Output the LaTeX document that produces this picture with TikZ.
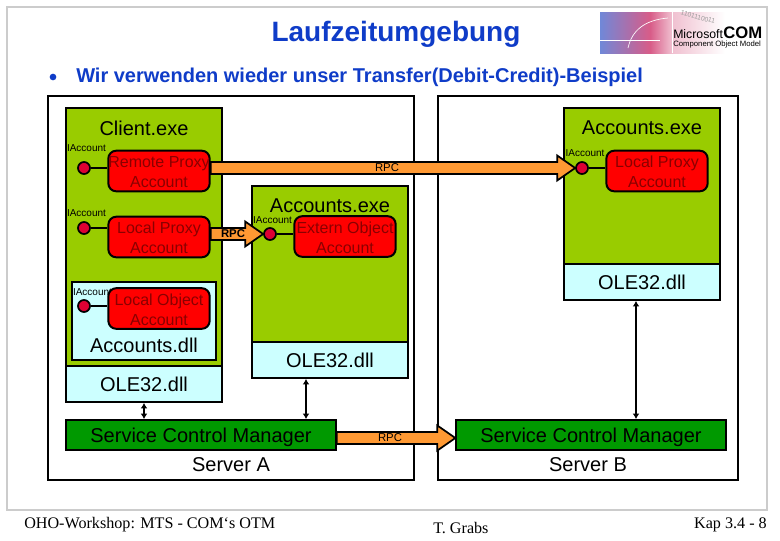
\documentclass[tikz,border=0pt]{standalone}
\usepackage{fontspec}
\setmainfont{Liberation Sans}
\newfontfamily\seriffont{Liberation Serif}
\usetikzlibrary{arrows.meta,calc}
\definecolor{limeg}{HTML}{99CC00}
\definecolor{paleb}{HTML}{CCFFFF}
\definecolor{smg}{HTML}{009900}
\definecolor{rpco}{HTML}{FF9933}
\definecolor{dotred}{HTML}{DD0033}
\definecolor{darkred}{HTML}{8A0000}
\definecolor{framegray}{HTML}{CCCCCC}
\definecolor{headblue}{HTML}{0F3CC8}
\definecolor{logoblue}{HTML}{7088D8}
\definecolor{logopink}{HTML}{D85C88}
\definecolor{logolight}{HTML}{F0C0D0}
\newcommand\dnline[1]{\raisebox{-0.8pt}[\height][\depth]{#1}}
\tikzset{
 x=0.75pt,y=-0.75pt,
 server/.style={draw=black,line width=1.5pt,fill=white},
 proc/.style={draw=black,line width=1.5pt,fill=limeg},
 dll/.style={draw=black,line width=1.5pt,fill=paleb},
 scm/.style={draw=black,line width=1.5pt,fill=smg,minimum width=202pt,minimum height=22pt,inner sep=0pt,font=\fontsize{15}{18}\selectfont,text depth=0pt},
 objbox/.style={draw=black,line width=1.5pt,fill=red,rounded corners=6pt,minimum width=76pt,minimum height=30.5pt,inner sep=0pt,align=center,font=\fontsize{12}{15}\selectfont,text=darkred},
 iface/.style={circle,draw=black,line width=1.3pt,fill=dotred,minimum size=9pt,inner sep=0pt},
 ilabel/.style={font=\fontsize{7.5}{8}\selectfont,inner sep=0pt},
 big/.style={font=\fontsize{15}{18}\selectfont,inner sep=0pt},
 rpcarrow/.style={draw=black,line width=1.3pt,fill=rpco},
 rpclabel/.style={font=\fontsize{8.5}{9}\selectfont,inner sep=0pt},
 link/.style={draw=black,line width=1.3pt},
 dbl/.style={draw=black,line width=1.2pt,{Latex[length=4pt,width=5pt]}-{Latex[length=4pt,width=5pt]}},
 foot/.style={font=\seriffont\fontsize{12.1}{14}\selectfont,inner sep=0pt},
}
\begin{document}
\begin{tikzpicture}
\useasboundingbox (0,0) rectangle (780,540);
\fill[white] (0,0) rectangle (780,540);
\draw[framegray,line width=1.5pt] (7,7) rectangle (767,510);
% logo
\shade[left color=logoblue,right color=logopink] (600,12) rectangle (650,53);
\shade[left color=logopink,right color=logolight] (650,12) rectangle (672,53);
\shade[left color=logolight,right color=white] (672,12) rectangle (725,53);
\draw[white,line width=0.5pt] (600,40) -- (660,40) (672,12) -- (672,53);
\draw[white,line width=0.5pt] (628,48) .. controls (632,30) and (645,20) .. (668,18);
\node[font=\fontsize{5}{6}\selectfont,text=black!40,rotate=-15,inner sep=0pt] (digits) at (698,17) {1101110011};
\node[font=\fontsize{9.2}{11}\selectfont,inner sep=0pt,anchor=base west] (ms) at (673,38) {Microsoft};
\node[font=\bfseries\fontsize{12.5}{15}\selectfont,inner sep=0pt,anchor=base west] (com) at (723,38) {COM};
\node[font=\fontsize{5.8}{7}\selectfont,inner sep=0pt,anchor=base west] (cm) at (673,46) {Component Object Model};
% title
\node[font=\bfseries\fontsize{21}{24}\selectfont,text=headblue,inner sep=0pt] (title) at (396,34) {Laufzeitumgebung};
\node[circle,fill=headblue,inner sep=0pt,minimum size=5pt] (bul) at (53,77) {};
\node[font=\bfseries\fontsize{15}{18}\selectfont,text=headblue,inner sep=0pt,anchor=base west] (sub) at (76,82) {Wir verwenden wieder unser Transfer(Debit-Credit)-Beispiel};
% servers
\draw[server] (48,96) rectangle (414,480);
\draw[server] (438,96) rectangle (738,480);
% client
\draw[proc] (66,108) rectangle (222,366);
\draw[dll] (66,366) rectangle (222,402);
\node[big] (t1) at (144,128) {Client.exe};
\node[big] (t2) at (144,384) {OLE32.dll};
% accounts.dll
\draw[dll] (72,282) rectangle (216,360);
\node[big] (t3) at (144,345) {Accounts.dll};
% middle process
\draw[proc] (252,186) rectangle (408,342);
\draw[dll] (252,342) rectangle (408,378);
\node[big] (t4) at (330,206) {Accounts.exe};
\node[big] (t5) at (330,360) {OLE32.dll};
% right process
\draw[proc] (564,108) rectangle (720,264);
\draw[dll] (564,264) rectangle (720,300);
\node[big] (t6) at (642,128) {Accounts.exe};
\node[big] (t7) at (642,282) {OLE32.dll};
% SCM
\node[scm] (scmA) at (201,435) {Service Control Manager};
\node[scm] (scmB) at (591,435) {Service Control Manager};
\node[big] (sa) at (231,465) {Server A};
\node[big] (sb) at (588,465) {Server B};
% interface labels (under the boxes)
\node[ilabel] (l1) at (86.5,148) {IAccount};
\node[ilabel] (l2) at (86.5,213) {IAccount};
\node[ilabel] (l3) at (92.5,292) {IAccount};
\node[ilabel] (l4) at (272.5,220) {IAccount};
\node[ilabel] (l5) at (585,153) {IAccount};
% objects
\node[objbox] (rp) at (159,171) {\dnline{Remote Proxy}\\\dnline{Account}};
\node[objbox] (lp) at (159,237) {\dnline{Local Proxy}\\\dnline{Account}};
\node[objbox] (lo) at (159,308.5) {\dnline{Local Object}\\\dnline{Account}};
\node[objbox] (eo) at (345,236.5) {\dnline{Extern Object}\\\dnline{Account}};
\node[objbox] (lpr) at (657,171) {\dnline{Local Proxy}\\\dnline{Account}};
% interfaces
\node[iface] (i1) at (84,168) {};
\node[iface] (i2) at (84,228) {};
\node[iface] (i3) at (84,306) {};
\node[iface] (i4) at (270,234) {};
\node[iface] (i5) at (582,168) {};
\draw[link] (i1) -- (rp.west|-i1);
\draw[link] (i2) -- (lp.west|-i2);
\draw[link] (i3) -- (lo.west|-i3);
\draw[link] (i4) -- (eo.west|-i4);
\draw[link] (i5) -- (lpr.west|-i5);
% rpc arrows
\def\rpcarrowfrom(#1)(#2){%
 \draw[rpcarrow] let \p1=(#1),\p2=(#2) in (\x1,\y1+4.5pt)--(\x2-13.5pt,\y2+4.5pt)--(\x2-13.5pt,\y2+9.4pt)--(\x2,\y2)--(\x2-13.5pt,\y2-9.4pt)--(\x2-13.5pt,\y2-4.5pt)--(\x1,\y1-4.5pt)--cycle;}
\coordinate (a1s) at (rp.east|-i1);
\coordinate (a2s) at (lp.east|-i4);
\coordinate (a3s) at (scmA.east|-0,438);
\coordinate (a3e) at (scmB.west|-0,438);
\rpcarrowfrom(a1s)(i5.west)
\rpcarrowfrom(a2s)(i4.west)
\rpcarrowfrom(a3s)(a3e)
\node[rpclabel] (r1) at (387,168) {RPC};
\node[rpclabel,font=\bfseries\fontsize{8.5}{9}\selectfont] (r2) at (233,233.5) {RPC};
\node[rpclabel] (r3) at (390,437.5) {RPC};
% double arrows
\coordinate (d1a) at (144,403);
\coordinate (d1b) at (144,419);
\coordinate (d2a) at (306,379);
\coordinate (d2b) at (306,419);
\coordinate (d3a) at (636,301);
\coordinate (d3b) at (636,419);
\draw[dbl] (d1a) -- (d1b);
\draw[dbl] (d2a) -- (d2b);
\draw[dbl] (d3a) -- (d3b);
% footer
\node[foot,anchor=base west] (f1) at (24,528) {OHO-Workshop: MTS - COM‘s OTM};
\node[foot,anchor=base west] (f2) at (433,533) {T. Grabs};
\node[foot,anchor=base east] (f3) at (767,528) {Kap 3.4 - 8};
\end{tikzpicture}
\end{document}
